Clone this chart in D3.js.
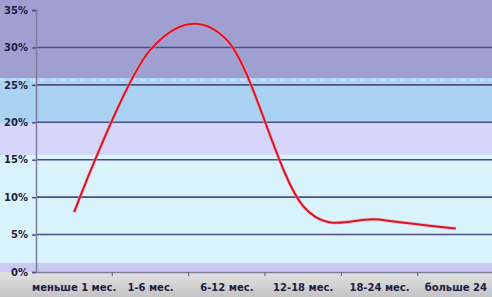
<!DOCTYPE html>
<html>
<head>
<meta charset="utf-8">
<script src="https://cdn.jsdelivr.net/npm/d3@7"></script>
<style>
  html, body { margin: 0; padding: 0; background: #fff; }
  svg { display: block; }
  .lbl { font-family: "DejaVu Sans", Verdana, sans-serif; font-weight: bold; font-size: 10px; fill: #1c1c44; }
</style>
</head>
<body>
<div id="graph"></div>
<script>
(function(){
	"use strict";

	// data
	var categories = ["меньше 1 мес.", "1-6 мес.", "6-12 мес.", "12-18 мес.", "18-24 мес.", "больше 24"];
	var values = [8, 29.7, 31, 8.8, 7, 5.8];
	var yTicks = [0, 5, 10, 15, 20, 25, 30, 35];

	var W = 492, H = 297;
	var margin = {top: 10, right: -2, bottom: 25, left: 36};

	var svg = d3.select("#graph").append("svg")
		.attr("width", W)
		.attr("height", H);

	var x = d3.scaleBand()
		.domain(categories)
		.range([margin.left, W - margin.right]);

	var y = d3.scaleLinear()
		.domain([0, 35])
		.range([H - margin.bottom, margin.top]);

	// background bands (value ranges in %)
	var bands = [
		{from: 25.9, to: 40, color: "#9f9fd1"},
		{from: 19.8, to: 25.9, color: "#aad3f3"},
		{from: 15.6, to: 19.8, color: "#d6d6fa"},
		{from: 1.2, to: 15.6, color: "#d9f3fd"},
		{from: 0, to: 1.2, color: "#cacaf3"}
	];

	var defs = svg.append("defs");
	var grad = defs.append("linearGradient")
		.attr("id", "bottomGrad")
		.attr("x1", 0).attr("y1", 0).attr("x2", 0).attr("y2", 1);
	grad.append("stop").attr("offset", "0%").attr("stop-color", "#e2e2e2");
	grad.append("stop").attr("offset", "100%").attr("stop-color", "#c4c4c4");

	svg.selectAll(".band")
		.data(bands)
		.enter().append("rect")
		.attr("class", "band")
		.attr("x", 0)
		.attr("width", W)
		.attr("y", function(d) { return Math.max(0, y(d.to)); })
		.attr("height", function(d) { return y(d.from) - Math.max(0, y(d.to)); })
		.attr("fill", function(d) { return d.color; });

	// light dashed seam at top of the blue band
	svg.append("line")
		.attr("x1", 0).attr("x2", W)
		.attr("y1", y(25.9) + 2).attr("y2", y(25.9) + 2)
		.attr("stroke", "#c8e6fa")
		.attr("stroke-width", 1.5)
		.attr("stroke-dasharray", "6,4");

	// gray area under the plot
	svg.append("rect")
		.attr("x", 0)
		.attr("y", y(0))
		.attr("width", W)
		.attr("height", H - y(0))
		.attr("fill", "url(#bottomGrad)");

	// horizontal grid
	svg.selectAll(".grid")
		.data(yTicks.filter(function(d) { return d > 0 && d < 35; }))
		.enter().append("line")
		.attr("class", "grid")
		.attr("x1", margin.left)
		.attr("x2", W)
		.attr("y1", function(d) { return y(d); })
		.attr("y2", function(d) { return y(d); })
		.attr("stroke", "#4d4d84")
		.attr("stroke-width", 1.6);

	// y axis
	var yAxis = svg.append("g")
		.attr("transform", "translate(" + margin.left + ",0)")
		.call(d3.axisLeft(y).tickValues(yTicks).tickSize(4).tickPadding(4)
			.tickFormat(function(d) { return d + "%"; }));
	yAxis.select(".domain").attr("stroke", "#7e7e9a").attr("stroke-width", 1.5);
	yAxis.selectAll(".tick line").attr("stroke", "#4d4d84").attr("stroke-width", 1.5);
	yAxis.selectAll(".tick text").attr("class", "lbl").attr("fill", null).attr("font-size", null).attr("font-family", null);

	// x axis
	var xAxis = svg.append("g")
		.attr("transform", "translate(0," + y(0) + ")")
		.call(d3.axisBottom(x).tickSize(0).tickPadding(12));
	xAxis.select(".domain").attr("stroke", "#7e7e9a").attr("stroke-width", 1.5);
	xAxis.selectAll(".tick text").attr("class", "lbl").attr("fill", null).attr("font-size", null).attr("font-family", null);

	// tick marks between categories
	xAxis.selectAll(".sep")
		.data(categories.slice(1))
		.enter().append("line")
		.attr("class", "sep")
		.attr("x1", function(d) { return x(d); })
		.attr("x2", function(d) { return x(d); })
		.attr("y1", 0).attr("y2", 4)
		.attr("stroke", "#6e6e88")
		.attr("stroke-width", 1.2);

	// smooth line (uniform Catmull-Rom, like the spreadsheet's smoothing)
	var line = d3.line()
		.x(function(d, i) { return x(categories[i]) + x.bandwidth() / 2; })
		.y(function(d) { return y(d); })
		.curve(d3.curveCatmullRom.alpha(0));

	svg.append("path")
		.datum(values)
		.attr("fill", "none")
		.attr("stroke", "#f4a0b0")
		.attr("stroke-width", 3.5)
		.attr("opacity", 0.6)
		.attr("d", line);

	svg.append("path")
		.datum(values)
		.attr("fill", "none")
		.attr("stroke", "#dc1420")
		.attr("stroke-width", 2)
		.attr("d", line);

})();
</script>
</body>
</html>
